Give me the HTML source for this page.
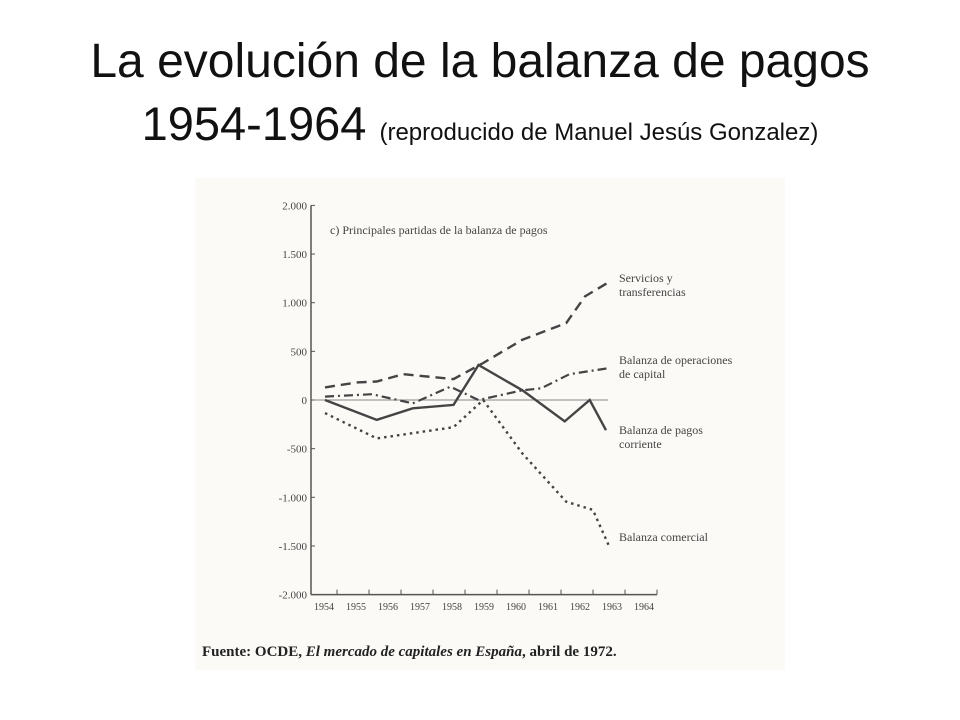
<!DOCTYPE html>
<html><head><meta charset="utf-8"><style>
body{margin:0;background:#fff;width:960px;height:720px;overflow:hidden}
.t{position:absolute;left:0;width:960px;text-align:center;font-family:"Liberation Sans",sans-serif;color:#111}
</style></head><body>
<div class="t" style="top:34px;font-size:48px">La evolución de la balanza de pagos</div>
<div class="t" style="top:96px;font-size:47px">1954-1964 <span style="font-size:24px">(reproducido de Manuel Jesús Gonzalez)</span></div>
<svg id="chart" width="960" height="720" style="position:absolute;left:0;top:0" xmlns="http://www.w3.org/2000/svg">
<rect x="195" y="178" width="590" height="492" fill="#fbfaf7"/>
<g id="g" font-family="Liberation Serif, serif" fill="#444"></g>
</svg>
<script>
const years=[1954,1955,1956,1957,1958,1959,1960,1961,1962,1963,1964];
const yTicks=[2000,1500,1000,500,0,-500,-1000,-1500,-2000];
const yTickLabels=["2.000","1.500","1.000","500","0","-500","-1.000","-1.500","-2.000"];
const corrX=[1954,1955.65,1956.8,1958.1,1958.9,1960.3,1961.65,1962.45,1962.97];
const corrV=[0,-205,-85,-50,360,100,-220,0,-310];
const servX=[1954,1955,1955.65,1956.5,1958.1,1959.05,1960.3,1961.7,1962.3,1963];
const servV=[130,180,190,265,215,380,620,790,1065,1200];
const capX=[1954,1955.5,1956.8,1958,1958.9,1960.3,1960.9,1961.8,1963];
const capV=[35,60,-35,137,0,100,120,265,325];
const comX=[1954,1955.65,1958.1,1959.05,1960.3,1961.7,1962.55,1963.1];
const comV=[-135,-395,-280,0,-550,-1045,-1130,-1525];
const X=y=>325+(y-1954)*31.33;
const Y=v=>400-v*0.0973;
const ns="http://www.w3.org/2000/svg",g=document.getElementById('g');
function mk(t,a,txt){const e=document.createElementNS(ns,t);for(const k in a)e.setAttribute(k,a[k]);if(txt!==undefined)e.textContent=txt;g.appendChild(e);return e;}
let e=mk('line',{x1:311,y1:Y(2000),x2:311,y2:Y(-2000),stroke:'#555','stroke-width':1.5});

e=mk('line',{x1:311,y1:Y(-2000),x2:657,y2:Y(-2000),stroke:'#555','stroke-width':1.5});

e=mk('line',{x1:311,y1:Y(0),x2:608,y2:Y(0),stroke:'#888','stroke-width':1});

yTicks.forEach((v,i)=>{
 e=mk('line',{x1:311,y1:Y(v),x2:315,y2:Y(v),stroke:'#555'});
 
 e=mk('text',{x:307,y:Y(v)+4,'font-size':11,'text-anchor':'end'},yTickLabels[i]);
 
});
years.forEach((y,i)=>{
 const x=337+i*32;
 e=mk('line',{x1:x,y1:Y(-2000),x2:x,y2:Y(-2000)-5,stroke:'#555'});
 
 e=mk('text',{x:x-13,y:610,'font-size':10,'text-anchor':'middle'},y);
 
});
function series(xs,vs,dash,w,name){
 const d=xs.map((x,i)=>(i?'L':'M')+X(x).toFixed(1)+','+Y(vs[i]).toFixed(1)).join('');
 const p=mk('path',{d:d,fill:'none',stroke:'#444','stroke-width':w,'stroke-dasharray':dash});
 
}
series(servX,servV,'10,6',2.4,'line-servicios');
series(capX,capV,'9,4,2,4',2.2,'line-capital');
series(corrX,corrV,'none',2.4,'line-corriente');
series(comX,comV,'2.5,4',2.4,'line-comercial');
e=mk('text',{x:330,y:234,'font-size':12},'c) Principales partidas de la balanza de pagos');

const labs=[["Servicios y","transferencias",282],["Balanza de operaciones","de capital",364],["Balanza de pagos","corriente",434],["Balanza comercial","",541]];
labs.forEach(l=>{
 e=mk('text',{x:619,y:l[2],'font-size':12},l[0]);
 
 if(l[1]){e=mk('text',{x:619,y:l[2]+14,'font-size':12},l[1]);
 }
});
e=mk('text',{x:202,y:656,'font-size':15,fill:'#222','font-weight':'bold'},'Fuente: OCDE, ');

const it=document.createElementNS(ns,'tspan');it.setAttribute('font-style','italic');it.textContent='El mercado de capitales en España';e.appendChild(it);
e.appendChild(document.createTextNode(', abril de 1972.'));
</script>
</body></html>
